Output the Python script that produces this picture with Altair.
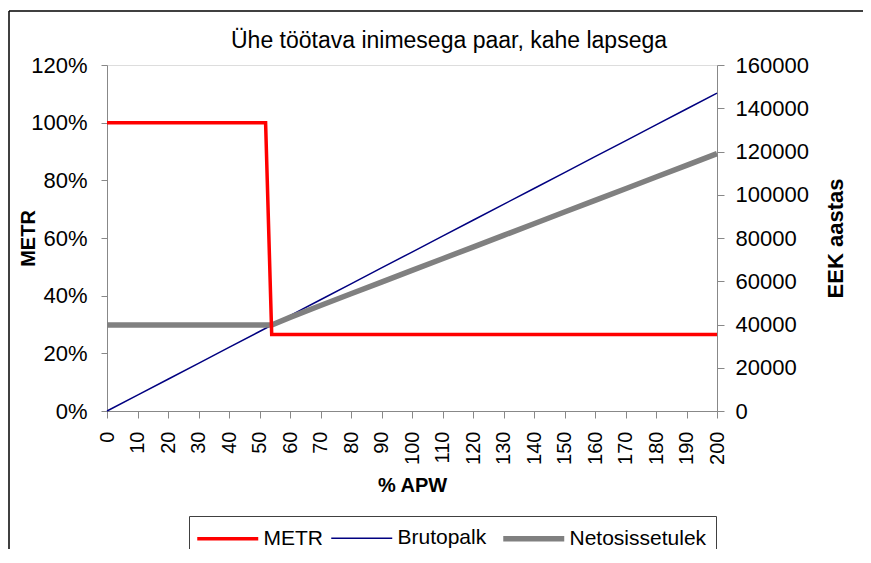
import altair as alt
import pandas as pd

FONT = "Liberation Sans"

# --- data ---
series_names = ["METR", "Brutopalk", "Netosissetulek"]
series_colors = ["#FF0000", "#000080", "#808080"]
series_widths = [3.5, 1.5, 5.5]

metr_x = [0, 52, 54, 200]
metr_v = [1.0, 1.0, 0.265, 0.265]

bruto_x = list(range(0, 201, 10))
bruto_v = [0, 7350, 14700, 22050, 29400, 36750, 44100, 51450, 58800, 66150, 73500,
           80850, 88200, 95550, 102900, 110250, 117600, 124950, 132300, 139650, 147000]

neto_x = [0, 10, 20, 30, 40, 50, 54, 60, 70, 80, 90, 100, 110, 120, 130, 140, 150,
          160, 170, 180, 190, 200]
neto_v = [39800, 39800, 39800, 39800, 39800, 39800, 39800, 43300, 48800, 54200, 59600,
          65000, 70400, 75800, 81200, 86600, 92000, 97400, 102800, 108200, 113600, 119000]

x_ticks = list(range(0, 201, 10))
left_ticks = [0, 0.2, 0.4, 0.6, 0.8, 1.0, 1.2]
right_ticks = list(range(0, 160001, 20000))

metr_df = pd.DataFrame({"x": metr_x, "v": metr_v, "series": "METR"})
bruto_df = pd.DataFrame({"x": bruto_x, "v": bruto_v, "series": "Brutopalk"})
neto_df = pd.DataFrame({"x": neto_x, "v": neto_v, "series": "Netosissetulek"})

W, H = 610, 346

# legend symbol: a ~61px horizontal line inside a ~26px-high entry
R = 10.5
sym_path = "M-1.357,0H4.452"

legend = alt.Legend(
    title=None, orient="none", legendX=82, legendY=451, direction="horizontal",
    columns=3, symbolType=sym_path, symbolSize=(2 * R) ** 2, labelFont=FONT,
    labelFontSize=21, labelColor="black", columnPadding=5, labelOffset=38.5, padding=9,
    strokeColor="#404040", fillColor="white", labelLimit=300,
)

color = alt.Color("series:N", scale=alt.Scale(domain=series_names, range=series_colors),
                  legend=legend)
swidth = alt.StrokeWidth("series:N",
                         scale=alt.Scale(type="ordinal", domain=series_names,
                                         range=series_widths),
                         legend=legend)

x_enc = alt.X("x:Q", scale=alt.Scale(domain=[0, 200], nice=False),
              axis=alt.Axis(values=x_ticks, labelAngle=270, title="% APW", grid=False,
                            labelFontSize=20, labelPadding=13, tickSize=7,
                            titleFontSize=20, titleFontWeight="bold", titleY=74,
                            titleBaseline="middle", labelFlush=False, labelOverlap=False))

right_axis = alt.Axis(orient="right", values=right_ticks, format="d", grid=False,
                      title="EEK aastas", labelFontSize=22, labelPadding=11, tickSize=7,
                      titleFontSize=22, titleFontWeight="bold", titleAngle=270,
                      titleX=118, titleY=H / 2, titleAlign="center", titleBaseline="middle")
right_scale = alt.Scale(domain=[0, 160000], nice=False)

bruto = alt.Chart(bruto_df).mark_line().encode(
    x=x_enc, y=alt.Y("v:Q", scale=right_scale, axis=right_axis), color=color,
    strokeWidth=swidth)
neto = alt.Chart(neto_df).mark_line().encode(
    x=x_enc, y=alt.Y("v:Q", scale=right_scale, axis=right_axis), color=color,
    strokeWidth=swidth)
income = alt.layer(bruto, neto)

metr = alt.Chart(metr_df).mark_line().encode(
    x=x_enc,
    y=alt.Y("v:Q", scale=alt.Scale(domain=[0, 1.2], nice=False),
            axis=alt.Axis(orient="left", values=left_ticks, format=".0%", grid=False,
                          title="METR", labelFontSize=22, labelPadding=14, tickSize=6,
                          titleFontSize=20, titleFontWeight="bold", titleAngle=270,
                          titleX=-79, titleY=H / 2, titleAlign="center",
                          titleBaseline="middle")),
    color=color, strokeWidth=swidth)

frame_data = alt.Data(values=[{"k": 1}])
frame_left = alt.Chart(frame_data).mark_rule(color="black", strokeWidth=1.5).encode(
    x=alt.value(-98), y=alt.value(-54), y2=alt.value(520))
frame_top = alt.Chart(frame_data).mark_rule(color="black", strokeWidth=1.5).encode(
    x=alt.value(-98), x2=alt.value(800), y=alt.value(-54))

chart = alt.layer(income, metr, frame_left, frame_top).resolve_scale(
    y="independent"
).properties(
    width=W, height=H,
    title=alt.TitleParams("Ühe töötava inimesega paar, kahe lapsega", anchor="middle",
                          fontSize=23, fontWeight="normal", font=FONT, color="black",
                          dx=37, dy=51, offset=8),
    autosize=alt.AutoSizeParams(type="none"),
    padding={"left": 99, "top": 57, "right": 146, "bottom": 138},
).configure_view(
    stroke="#808080", strokeWidth=1.5
).configure_axis(
    domainColor="black", tickColor="black", labelColor="black", titleColor="black",
    labelFont=FONT, titleFont=FONT, domainWidth=1.2, tickWidth=1.2
).configure(background="white")

chart.save("out.html", embed_options={"renderer": "svg", "actions": False})
